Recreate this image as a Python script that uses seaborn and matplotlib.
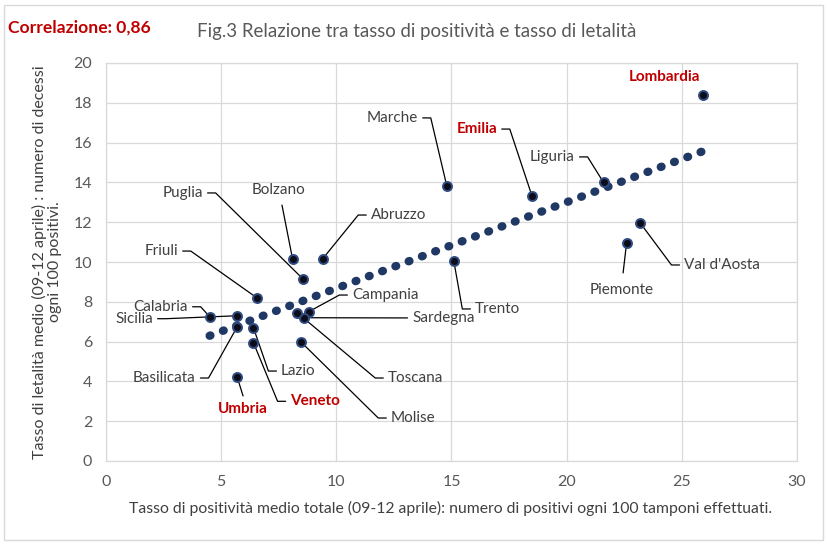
import pandas as pd
import matplotlib.pyplot as plt
import seaborn as sns

# dati (tasso positività, tasso letalità)
regioni = ["Lombardia", "Emilia", "Liguria", "Piemonte", "Val d'Aosta", "Marche",
           "Trento", "Bolzano", "Abruzzo", "Puglia", "Friuli", "Calabria", "Sicilia",
           "Basilicata", "Lazio", "Veneto", "Umbria", "Campania", "Sardegna",
           "Molise", "Toscana"]
positivita = [25.9, 18.5, 21.6, 22.6, 23.2, 14.8, 15.1, 8.1, 9.4, 8.55, 6.55,
              4.5, 5.7, 5.7, 6.4, 6.4, 5.7, 8.8, 8.6, 8.45, 8.3]
letalita = [18.4, 13.3, 14.0, 10.95, 11.95, 13.8, 10.05, 10.15, 10.15, 9.15, 8.2,
            7.25, 7.3, 6.75, 6.7, 5.95, 4.2, 7.5, 7.2, 6.0, 7.45]
evidenziate = ["Lombardia", "Emilia", "Veneto", "Umbria"]

df = pd.DataFrame({"regione": regioni, "positivita": positivita, "letalita": letalita})

# posizione etichette: (x, y, allineamento, inizio linea per etichette centrate)
etichette = {
    "Lombardia": (24.23, 19.3, "center", None),
    "Marche": (13.55, 17.24, "right", None),
    "Emilia": (16.98, 16.68, "right", None),
    "Liguria": (20.36, 15.28, "right", None),
    "Val d'Aosta": (25.1, 9.85, "left", None),
    "Piemonte": (22.4, 8.59, "center", (22.45, 9.45)),
    "Trento": (16.02, 7.64, "left", None),
    "Bolzano": (7.47, 13.62, "center", (7.64, 12.86)),
    "Abruzzo": (11.5, 12.36, "left", None),
    "Puglia": (4.21, 13.47, "right", None),
    "Friuli": (3.13, 10.55, "right", None),
    "Calabria": (3.56, 7.75, "right", None),
    "Sicilia": (2.04, 7.15, "right", None),
    "Basilicata": (3.9, 4.17, "right", None),
    "Lazio": (7.6, 4.52, "left", None),
    "Veneto": (8.0, 3.0, "left", None),
    "Umbria": (5.95, 2.61, "center", (5.95, 3.27)),
    "Campania": (10.68, 8.34, "left", None),
    "Sardegna": (13.29, 7.19, "left", None),
    "Toscana": (12.24, 4.17, "left", None),
    "Molise": (12.37, 2.16, "left", None),
}

sns.set_theme(style="whitegrid")
plt.rcParams['font.family'] = ['Lato', 'DejaVu Sans']

fig = plt.figure(figsize=(8.28, 5.45), dpi=100)
ax = fig.add_axes([106 / 828, 1 - 461 / 545, 691 / 828, 398 / 545])

# linea di tendenza lineare (punteggiata)
sns.regplot(data=df, x="positivita", y="letalita", ci=None, scatter=False, ax=ax,
            line_kws=dict(color="#1f3864", lw=6, linestyle=(0, (0.1, 1.6)),
                          dash_capstyle="round", zorder=2))
sns.scatterplot(data=df, x="positivita", y="letalita", s=42, color="#0d0d1a",
                edgecolor="#2f4b80", linewidth=1.4, zorder=3, ax=ax)

for nome, px, py in zip(regioni, positivita, letalita):
    lx, ly, ha, start = etichette[nome]
    rosso = nome in evidenziate
    ax.text(lx, ly, nome, ha=ha, va="center", fontsize=11,
            color="#c00000" if rosso else "#404040",
            fontweight="bold" if rosso else "normal", zorder=4)
    if ha == "right":
        xs, ys = [lx + 0.2, lx + 0.55, px], [ly, ly, py]
    elif ha == "left":
        xs, ys = [lx - 0.2, lx - 0.55, px], [ly, ly, py]
    elif start is not None:
        xs, ys = [start[0], px], [start[1], py]
    else:
        continue
    ax.plot(xs, ys, color="black", lw=0.9, zorder=1)

ax.set_xlim(0, 30)
ax.set_ylim(0, 20)
ax.set_xticks(range(0, 31, 5))
ax.set_yticks(range(0, 21, 2))
ax.grid(True, color="#d9d9d9", lw=0.9)
for sp in ax.spines.values():
    sp.set_color("#d9d9d9")
    sp.set_linewidth(0.9)
ax.tick_params(labelsize=11.5, colors="#595959", pad=10, length=0)
ax.set_xlabel("")
ax.set_ylabel("")

fig.text(451 / 828, 1 - 508 / 545,
         "Tasso di positività medio totale (09-12 aprile): numero di positivi ogni 100 tamponi effettuati.",
         ha="center", va="center", fontsize=11.3, color="#404040")
fig.text(47 / 828, 1 - 262 / 545,
         "Tasso di letalità medio (09-12 aprile) : numero di decessi\nogni 100 positivi.",
         ha="center", va="center", rotation=90, fontsize=11.5, color="#404040",
         multialignment="center", linespacing=1.15)
fig.text(197 / 828, 1 - 31 / 545, "Fig.3 Relazione tra tasso di positività e tasso di letalità",
         ha="left", va="center", fontsize=13.4, color="#595959")
fig.text(8 / 828, 1 - 28 / 545, "Correlazione: 0,86", ha="left", va="center",
         fontsize=12.6, color="#c00000", fontweight="bold")

fig.add_artist(plt.Rectangle((4 / 828, 5 / 545), 819 / 828, 535 / 545,
                             transform=fig.transFigure, fill=False,
                             edgecolor="#d9d9d9", lw=1))

fig.savefig("out.png", dpi=100)
